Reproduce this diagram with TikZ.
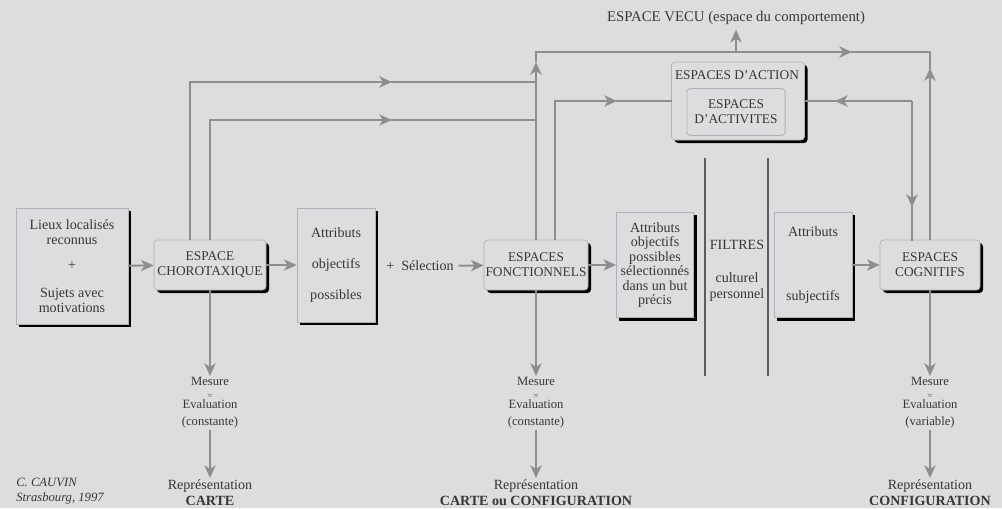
\documentclass[tikz,border=0pt]{standalone}
\usepackage{fontspec}
\setmainfont{Liberation Serif}
\usetikzlibrary{arrows.meta}
\usetikzlibrary{shadows}
\definecolor{mbg}{RGB}{221,221,223}
\definecolor{mline}{RGB}{142,142,145}
\definecolor{mtext}{RGB}{55,55,58}
\definecolor{mfilter}{RGB}{92,92,95}
\definecolor{mborder}{RGB}{178,178,182}
\newcommand{\smalleq}{{\fontsize{6}{6}\selectfont =}}

\begin{document}
\begin{tikzpicture}[x=0.025cm, y=-0.025cm,
    every node/.style={text=mtext, font=\fontsize{10}{10.7}\selectfont},
    box/.style={draw=mborder, fill=mbg, line width=.5pt, align=center, inner sep=0pt,
      drop shadow={shadow xshift=.075cm, shadow yshift=-.075cm, fill=black, opacity=1}},
    space/.style={box, rounded corners=2.5pt, minimum height=1.25cm, font=\fontsize{9.5}{10.7}\selectfont},
    measure/.style={anchor=north, align=center, inner sep=1pt, font=\fontsize{9}{12}\selectfont},
    result/.style={anchor=north, align=center, inner sep=1pt, font=\fontsize{10}{11.4}\selectfont},
    line/.style={draw=mline, line width=1.4pt, line cap=rect},
    flow/.style={line, line cap=butt, -{Stealth[length=9pt, width=8pt, inset=2.5pt]}},
    filter/.style={draw=mfilter, line width=1.5pt},
]
\fill[mbg] (0,0) rectangle (1002,508);
\useasboundingbox (0,0) rectangle (1002,508);

\node[box, minimum width=2.8cm, minimum height=2.9cm] (lieux) at (72,266) {Lieux localisés\\reconnus\\[7pt]+\\[9pt]Sujets avec\\motivations};
\node[space, minimum width=2.8cm] (choro) at (210,265) {ESPACE\\CHOROTAXIQUE};
\node[box, minimum width=1.95cm, minimum height=2.85cm] (attobj) at (336,265) {Attributs\\[11.5pt]objectifs\\[11.5pt]possibles};
\node (selection) at (420,266) {+\ \ Sélection};
\node[space, minimum width=2.6cm] (fonct) at (536,265) {ESPACES\\FONCTIONNELS};
\node[box, minimum width=1.925cm, minimum height=2.625cm, font=\fontsize{10}{10.3}\selectfont] (attsel) at (655,265) {Attributs\\objectifs\\possibles\\sélectionnés\\dans un but\\précis};
\node[align=center, inner sep=0pt] (filtres) at (737,271) {FILTRES\\[13pt]culturel\\[0.5pt]personnel};
\node[box, minimum width=1.95cm, minimum height=2.625cm] (attsubj) at (813,265) {Attributs\\[35pt]subjectifs};
\node[space, minimum width=2.5cm] (cogn) at (930,265) {ESPACES\\COGNITIFS};

\node[box, rounded corners=2.5pt, minimum width=3.325cm, minimum height=1.95cm] (action) at (738,101) {};
\node[font=\fontsize{9.5}{10.7}\selectfont] (actiontitle) at (737,75) {ESPACES D'ACTION};
\node[draw=mborder, line width=.7pt, rounded corners=2.5pt, minimum width=2.45cm, minimum height=1.175cm, align=center, font=\fontsize{9.5}{10.7}\selectfont] (activ) at (736,112) {ESPACES\\D'ACTIVITES};

\node[font=\fontsize{10.5}{12}\selectfont] (vecu) at (736,18) {ESPACE VECU (espace du comportement)};

\node[measure] (mes1) at (210,376) {Mesure\\[-3pt]\smalleq\\[-5pt]Evaluation\\(constante)};
\node[measure] (mes2) at (536,376) {Mesure\\[-3pt]\smalleq\\[-5pt]Evaluation\\(constante)};
\node[measure] (mes3) at (930,376) {Mesure\\[-3pt]\smalleq\\[-5pt]Evaluation\\(variable)};
\node[result] (rep1) at (210,478) {Représentation\\\textbf{CARTE}};
\node[result] (rep2) at (536,478) {Représentation\\\textbf{CARTE ou CONFIGURATION}};
\node[result] (rep3) at (930,478) {Représentation\\\textbf{CONFIGURATION}};

\node[anchor=west, align=left, inner sep=0pt, font=\fontsize{9}{10.7}\selectfont\itshape] (auteur) at (16,491) {C. CAUVIN\\Strasbourg, 1997};

\coordinate (m1) at (392,82);
\coordinate (j1) at (536,82);
\coordinate (m2) at (392,120);
\coordinate (j2) at (536,120);
\coordinate (u1) at (536,62);
\coordinate (m3) at (852,52);
\coordinate (t2) at (930,52);
\coordinate (u2) at (930,68);
\coordinate (t3) at (736,52);
\coordinate (m4) at (617,101);
\coordinate (k1) at (912,101);
\coordinate (m5) at (835,101);
\coordinate (m6) at (912,207);

% main row
\draw[flow] (lieux) -- (choro);
\draw[flow] (choro) -- (attobj);
\draw[flow] (selection) -- (fonct);
\draw[flow] (fonct) -- (attsel);
\draw[flow] (attsubj) -- (cogn);

% loops to the lived space
\draw[flow] ([xshift=-.5cm]choro.north) |- (m1);
\draw[line] (m1) -- (j1);
\draw[flow] (choro.north) |- (m2);
\draw[line] (m2) -- (j2);
\draw[flow] (fonct.north) -- (u1);
\draw[flow] (u1) |- (m3);
\draw[line] (m3) -- (t2);
\draw[flow] (cogn.north) -- (u2);
\draw[line] (u2) -- (t2);
\draw[flow] (t3) -- (vecu);

\draw[flow] ([xshift=.475cm]fonct.north) |- (m4);
\draw[line] (m4) -- (action);
\draw[flow] (k1) -- (m5);
\draw[line] (m5) -- (action);
\draw[flow] (k1) -- (m6);
\draw[line] (m6) -- (cogn.north -| k1);

% filters
\coordinate (f1a) at (705,158);
\coordinate (f1b) at (705,376);
\coordinate (f2a) at (768,158);
\coordinate (f2b) at (768,376);
\draw[filter] (f1a) -- (f1b);
\draw[filter] (f2a) -- (f2b);

% measures
\draw[flow] (choro) -- (mes1);
\draw[flow] (mes1) -- (rep1);
\draw[flow] (fonct) -- (mes2);
\draw[flow] (mes2) -- (rep2);
\draw[flow] (cogn) -- (mes3);
\draw[flow] (mes3) -- (rep3);

\end{tikzpicture}
\end{document}
